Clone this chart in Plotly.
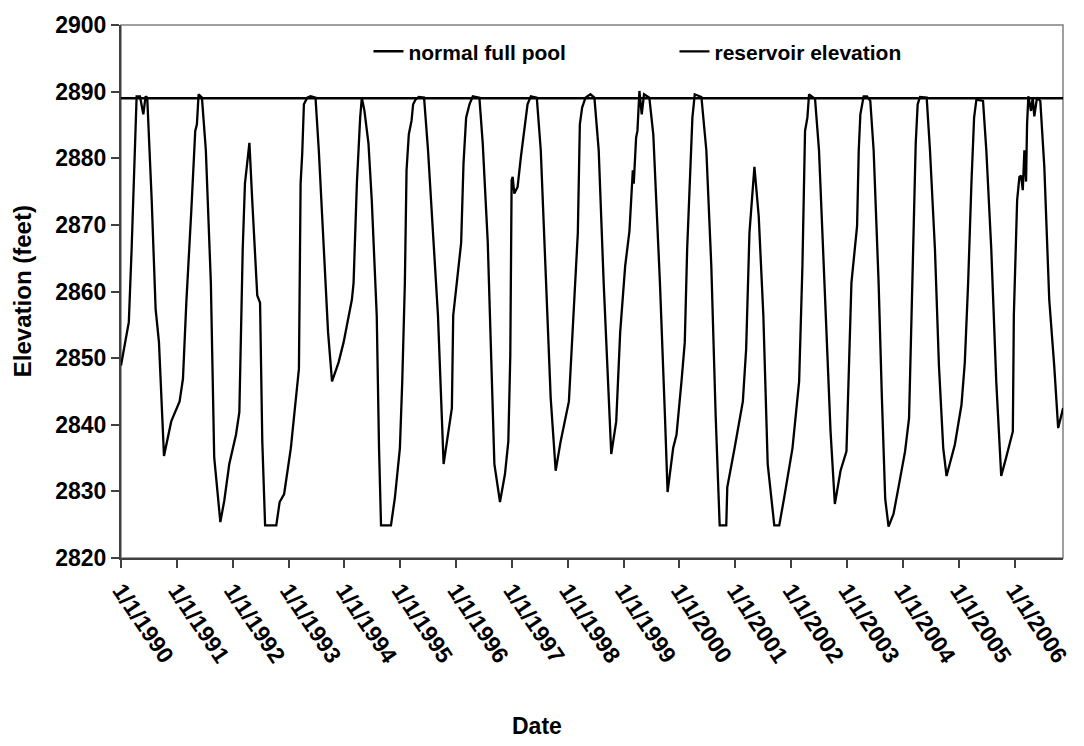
import datetime as dt
import plotly.graph_objects as go

# ---------------- data ----------------
# decimal year of each reading, reservoir elevation (feet)
res_year = [
    1990.00, 1990.14, 1990.19, 1990.24, 1990.28, 1990.34, 1990.40, 1990.44, 1990.47, 1990.55,
    1990.62, 1990.68, 1990.77, 1990.90, 1991.05, 1991.11, 1991.17, 1991.26, 1991.33, 1991.36,
    1991.39, 1991.45, 1991.52, 1991.61, 1991.67, 1991.78, 1991.85, 1991.94, 1992.06, 1992.12,
    1992.18, 1992.22, 1992.30, 1992.35, 1992.44, 1992.49, 1992.53, 1992.58, 1992.78, 1992.84,
    1992.92, 1993.04, 1993.185, 1993.215, 1993.244, 1993.274, 1993.333, 1993.393, 1993.482, 1993.541,
    1993.630, 1993.707, 1993.778, 1993.897, 1993.986, 1994.134, 1994.164, 1994.223, 1994.282, 1994.312,
    1994.359, 1994.431, 1994.490, 1994.579, 1994.620, 1994.656, 1994.834, 1994.905, 1994.994, 1995.036,
    1995.083, 1995.113, 1995.154, 1995.202, 1995.231, 1995.273, 1995.332, 1995.427, 1995.498, 1995.587,
    1995.676, 1995.777, 1995.854, 1995.925, 1995.949, 1996.020, 1996.091, 1996.133, 1996.180, 1996.240,
    1996.299, 1996.417, 1996.477, 1996.566, 1996.625, 1996.685, 1996.785, 1996.874, 1996.934, 1996.969,
    1996.993, 1997.011, 1997.041, 1997.100, 1997.159, 1997.218, 1997.278, 1997.337, 1997.444, 1997.515,
    1997.604, 1997.693, 1997.782, 1997.871, 1998.019, 1998.138, 1998.179, 1998.215, 1998.256, 1998.316,
    1998.405, 1998.476, 1998.553, 1998.642, 1998.713, 1998.778, 1998.867, 1998.938, 1999.027, 1999.104,
    1999.164, 1999.181, 1999.223, 1999.247, 1999.282, 1999.324, 1999.365, 1999.460, 1999.531, 1999.650,
    1999.739, 1999.787, 1999.887, 1999.947, 2000.036, 2000.095, 2000.137, 2000.184, 2000.231, 2000.273,
    2000.392, 2000.480, 2000.569, 2000.646, 2000.718, 2000.836, 2000.854, 2000.985, 2001.133, 2001.192,
    2001.251, 2001.340, 2001.417, 2001.500, 2001.578, 2001.696, 2001.785, 2001.874, 2002.022, 2002.141,
    2002.200, 2002.247, 2002.289, 2002.319, 2002.426, 2002.497, 2002.615, 2002.704, 2002.781, 2002.883,
    2002.989, 2003.031, 2003.078, 2003.179, 2003.209, 2003.238, 2003.297, 2003.357, 2003.416, 2003.476,
    2003.565, 2003.624, 2003.683, 2003.743, 2003.832, 2003.921, 2004.039, 2004.110, 2004.158, 2004.205,
    2004.229, 2004.264, 2004.306, 2004.425, 2004.484, 2004.573, 2004.644, 2004.721, 2004.780, 2004.928,
    2005.047, 2005.107, 2005.166, 2005.225, 2005.273, 2005.314, 2005.433, 2005.492, 2005.581, 2005.670,
    2005.759, 2005.848, 2005.967, 2005.985, 2006.044, 2006.085, 2006.115, 2006.145, 2006.174, 2006.204,
    2006.222, 2006.245, 2006.293, 2006.323, 2006.352, 2006.400, 2006.459, 2006.531, 2006.619, 2006.708,
    2006.779, 2006.868,
]
res_elev = [
    2848.9, 2855.4, 2866.3, 2878.7, 2889.3, 2889.3, 2886.6, 2889.3, 2889.1, 2873.7,
    2857.4, 2852.4, 2835.3, 2840.5, 2843.5, 2846.9, 2858.3, 2872.2, 2884.1, 2885.1,
    2889.6, 2889.1, 2881.2, 2861.3, 2835.1, 2825.4, 2828.6, 2834.1, 2838.5, 2841.9,
    2866.3, 2876.2, 2882.3, 2873.7, 2859.4, 2858.3, 2837.5, 2824.9, 2824.9, 2828.4,
    2829.6, 2836.5, 2848.4, 2876.2, 2880.7, 2888.1, 2889.1, 2889.3, 2889.1, 2881.2,
    2866.3, 2853.9, 2846.5, 2849.4, 2852.4, 2858.8, 2861.3, 2876.2, 2886.1, 2889.1,
    2887.1, 2882.2, 2873.7, 2856.4, 2836.5, 2824.9, 2824.9, 2829.1, 2836.5, 2846.5,
    2861.3, 2878.2, 2883.6, 2885.6, 2888.1, 2888.8, 2889.2, 2889.1, 2881.2, 2868.8,
    2856.4, 2834.1, 2838.5, 2842.5, 2856.4, 2862.3, 2867.3, 2879.2, 2886.1, 2888.1,
    2889.3, 2889.1, 2882.2, 2867.5, 2851.4, 2834.1, 2828.4, 2832.6, 2837.5, 2850.4,
    2876.7, 2877.2, 2874.7, 2875.7, 2880.2, 2884.1, 2888.1, 2889.3, 2889.1, 2881.2,
    2861.3, 2844.0, 2833.1, 2837.5, 2843.5, 2861.3, 2868.8, 2885.1, 2887.6, 2889.1,
    2889.6, 2889.1, 2881.2, 2861.3, 2846.5, 2835.6, 2840.5, 2853.9, 2863.8, 2869.1,
    2878.2, 2876.2, 2883.1, 2884.1, 2890.1, 2886.6, 2889.6, 2889.1, 2883.6, 2861.3,
    2841.5, 2829.9, 2836.5, 2838.5, 2846.5, 2852.4, 2866.3, 2876.2, 2886.1, 2889.6,
    2889.2, 2881.2, 2863.8, 2841.5, 2824.9, 2824.9, 2830.6, 2836.5, 2843.5, 2851.4,
    2868.8, 2878.7, 2871.3, 2856.4, 2834.1, 2824.9, 2824.9, 2829.1, 2836.5, 2846.5,
    2863.8, 2884.1, 2886.1, 2889.6, 2888.9, 2881.2, 2856.4, 2839.0, 2828.1, 2833.1,
    2836.0, 2846.5, 2861.3, 2869.8, 2881.2, 2886.6, 2889.3, 2889.3, 2888.6, 2881.2,
    2861.3, 2844.0, 2828.9, 2824.7, 2826.6, 2830.6, 2836.0, 2841.0, 2856.4, 2871.3,
    2882.2, 2888.1, 2889.2, 2889.1, 2881.2, 2866.3, 2848.9, 2836.5, 2832.3, 2837.0,
    2843.0, 2849.4, 2861.3, 2876.2, 2886.1, 2888.8, 2888.6, 2881.2, 2866.3, 2846.5,
    2832.3, 2835.1, 2839.0, 2856.4, 2873.7, 2877.2, 2877.4, 2875.2, 2881.2, 2876.5,
    2885.1, 2889.3, 2887.1, 2889.1, 2886.3, 2889.1, 2888.6, 2878.7, 2858.8, 2848.9,
    2839.5, 2842.5,
]

pool_dates = ["1990-01-01", "2006-11-13"]
pool_elev = [2889, 2889]

tick_dates = ["%d-01-01" % y for y in range(1990, 2007)]
tick_text = ["1/1/%d" % y for y in range(1990, 2007)]


def to_date(t):
    y = int(t)
    start = dt.datetime(y, 1, 1)
    end = dt.datetime(y + 1, 1, 1)
    return start + (end - start) * (t - y)


res_dates = [to_date(t) for t in res_year]

FONT = "Liberation Sans, Arial, sans-serif"

fig = go.Figure()
fig.add_trace(go.Scatter(
    x=pool_dates, y=pool_elev, mode="lines", name="normal full pool",
    line=dict(color="black", width=2.5),
))
fig.add_trace(go.Scatter(
    x=res_dates, y=res_elev, mode="lines", name="reservoir elevation",
    line=dict(color="black", width=2.3),
))

fig.update_layout(
    width=1084, height=746,
    margin=dict(l=121, r=15, t=20, b=188),
    paper_bgcolor="white", plot_bgcolor="white",
    font=dict(family=FONT, size=23, color="black", weight="bold"),
    showlegend=True,
    legend=dict(
        orientation="h", x=0.2627, y=0.950, xanchor="left", yanchor="middle",
        bgcolor="rgba(0,0,0,0)", borderwidth=0,
        font=dict(family=FONT, size=21, color="black", weight="bold"),
        entrywidth=261, entrywidthmode="pixels",
    ),
    xaxis=dict(
        type="date",
        range=[pool_dates[0], pool_dates[1]],
        tickmode="array", tickvals=tick_dates, ticktext=tick_text,
        tickangle=56,
        ticks="outside", ticklen=8, tickwidth=1.5, tickcolor="#404040",
        showline=True, linecolor="#404040", linewidth=2,
        showgrid=False, zeroline=False,
        tickfont=dict(family=FONT, size=23, color="black", weight="bold"),
    ),
    yaxis=dict(
        range=[2820, 2900], dtick=10, tick0=2820,
        ticks="outside", ticklen=8, tickwidth=1.5, tickcolor="#404040",
        showline=True, linecolor="#404040", linewidth=2,
        showgrid=False, zeroline=False,
        tickfont=dict(family=FONT, size=23, color="black", weight="bold"),
    ),
    shapes=[dict(
        type="rect", xref="paper", yref="paper", x0=0, x1=1, y0=0, y1=1,
        line=dict(color="#808080", width=1.5), layer="below",
    )],
    annotations=[
        dict(text="Elevation (feet)", xref="paper", yref="paper",
             x=-0.1044, y=0.5, textangle=-90, showarrow=False,
             xanchor="center", yanchor="middle",
             font=dict(family=FONT, size=24, color="black", weight="bold")),
        dict(text="Date", xref="paper", yref="paper",
             x=0.442, y=-0.3147, showarrow=False,
             xanchor="center", yanchor="middle",
             font=dict(family=FONT, size=23, color="black", weight="bold")),
    ],
)

fig.write_html("out.html")
